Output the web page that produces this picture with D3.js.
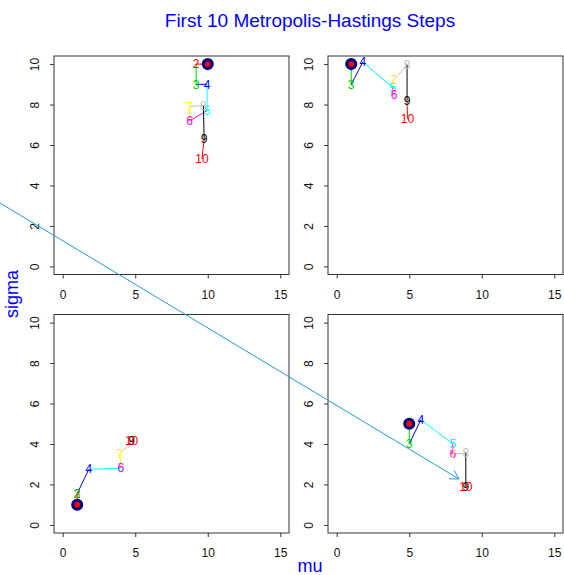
<!DOCTYPE html>
<html>
<head>
<meta charset="utf-8">
<script src="https://cdn.jsdelivr.net/npm/d3@7"></script>
<style>
body { margin: 0; background: #fff; }
text { font-family: "Liberation Sans", Arial, sans-serif; }
</style>
</head>
<body>
<div id="chart"></div>
<script>
var svgWidth = 564;
var svgHeight = 575;

// step labels and R palette colours (col = step number)
var stepLabels = ["1", "2", "3", "4", "5", "6", "7", "8", "9", "10"];
var stepColors = ["#000000", "#FF0000", "#00CD00", "#0000FF", "#00FFFF",
                  "#FF00FF", "#FFFF00", "#BEBEBE", "#000000", "#FF0000"];

var xTicks = [0, 5, 10, 15];
var yTicks = [0, 2, 4, 6, 8, 10];

// chain 1 (start mu=10, sigma=10)
var muA = [10, 9.2, 9.2, 9.95, 9.95, 8.75, 8.75, 9.7, 9.75, 9.6];
var sigmaA = [10, 10, 9, 9, 7.7, 7.2, 7.9, 7.95, 6.3, 5.3];
// chain 2 (start mu=1, sigma=10)
var muB = [1, 1, 1, 1.8, 3.85, 3.95, 3.92, 4.85, 4.85, 4.88];
var sigmaB = [10, 10, 9, 10.1, 8.85, 8.5, 9.2, 9.95, 8.2, 7.3];
// chain 3 (start mu=1, sigma=1)
var muC = [1, 1, 1, 1.8, 4, 4, 3.95, 4.75, 4.75, 4.75];
var sigmaC = [1, 1.55, 1.55, 2.75, 2.8, 2.8, 3.5, 4.15, 4.15, 4.15];
// chain 4 (start mu=5, sigma=5)
var muD = [5, 5, 5, 5.8, 8, 8, 8, 8.9, 8.9, 8.9];
var sigmaD = [5, 5, 4, 5.2, 4, 3.5, 3.5, 3.55, 1.9, 1.9];

// annotation arrow drawn over the figure (page pixels)
var pointer = [[0, 203], [459, 479]];

var panels = [
  { mu: muA, sigma: sigmaA, col: 0, row: 0 },
  { mu: muB, sigma: sigmaB, col: 1, row: 0 },
  { mu: muC, sigma: sigmaC, col: 0, row: 1 },
  { mu: muD, sigma: sigmaD, col: 1, row: 1 }
];

var colLeft = [54, 328];
var rowTop = [56, 314.5];
var pWidth = 235;
var pHeight = 218.5;

var svg = d3.select("#chart")
  .append("svg")
  .attr("width", svgWidth)
  .attr("height", svgHeight);

panels.forEach(function(p) {
  var g = svg.append("g")
    .attr("transform", `translate(${colLeft[p.col]}, ${rowTop[p.row]})`);

  var x = d3.scaleLinear().domain([-0.6, 15.6]).range([0, pWidth]);
  var y = d3.scaleLinear().domain([-0.4, 10.4]).range([pHeight, 0]);

  var bottomAxis = d3.axisBottom(x).tickValues(xTicks).tickSize(4).tickPadding(11.5);
  var leftAxis = d3.axisLeft(y).tickValues(yTicks).tickSize(4);

  var xg = g.append("g")
    .attr("transform", `translate(0, ${pHeight})`)
    .call(bottomAxis);
  var yg = g.append("g").call(leftAxis);

  [xg, yg].forEach(function(a) {
    a.select(".domain").remove();
    a.selectAll("line").attr("stroke", "#333");
    a.selectAll("text").attr("font-size", "12px").attr("fill", "#111")
      .style("font-family", '"Liberation Sans", Arial, sans-serif');
  });

  yg.selectAll("text")
    .attr("x", null)
    .attr("text-anchor", "middle")
    .attr("dy", "0.35em")
    .attr("transform", "translate(-19, 0) rotate(-90)");

  g.append("rect")
    .attr("width", pWidth)
    .attr("height", pHeight)
    .attr("fill", "none")
    .attr("stroke", "#333")
    .attr("stroke-width", 1);

  // path segments, coloured by the step they lead to
  var segs = d3.range(1, p.mu.length).map(function(i) {
    return { x1: p.mu[i - 1], y1: p.sigma[i - 1], x2: p.mu[i], y2: p.sigma[i], i: i };
  });

  g.selectAll(".seg")
    .data(segs)
    .enter()
    .append("line")
    .attr("x1", d => x(d.x1))
    .attr("y1", d => y(d.y1))
    .attr("x2", d => x(d.x2))
    .attr("y2", d => y(d.y2))
    .attr("stroke", d => stepColors[d.i])
    .attr("stroke-width", 1);

  var pts = p.mu.map(function(m, i) {
    return { mu: m, sigma: p.sigma[i], i: i };
  });

  g.selectAll(".lab")
    .data(pts.slice(1))
    .enter()
    .append("text")
    .attr("x", d => x(d.mu))
    .attr("y", d => y(d.sigma))
    .attr("dy", "0.35em")
    .attr("text-anchor", "middle")
    .attr("font-size", "12px")
    .attr("fill", d => stepColors[d.i])
    .text(d => stepLabels[d.i]);

  // starting point
  g.append("circle")
    .attr("cx", x(p.mu[0]))
    .attr("cy", y(p.sigma[0]))
    .attr("r", 5.3)
    .attr("fill", "#000080")
    .attr("stroke", "#000080")
    .attr("stroke-width", 1.5);
  g.append("circle")
    .attr("cx", x(p.mu[0]))
    .attr("cy", y(p.sigma[0]))
    .attr("r", 2.9)
    .attr("fill", "#FF0000");
});

svg.append("text")
  .attr("x", 310)
  .attr("y", 26.5)
  .attr("text-anchor", "middle")
  .attr("font-size", "19px")
  .attr("fill", "#0000FF")
  .text("First 10 Metropolis-Hastings Steps");

svg.append("text")
  .attr("x", 310)
  .attr("y", 572)
  .attr("text-anchor", "middle")
  .attr("font-size", "18px")
  .attr("fill", "#0000FF")
  .text("mu");

svg.append("text")
  .attr("transform", "translate(18, 294) rotate(-90)")
  .attr("text-anchor", "middle")
  .attr("font-size", "18px")
  .attr("fill", "#0000FF")
  .text("sigma");

// arrow
var arrowColor = "#1E9BD7";
svg.append("line")
  .attr("x1", pointer[0][0]).attr("y1", pointer[0][1])
  .attr("x2", pointer[1][0]).attr("y2", pointer[1][1])
  .attr("stroke", arrowColor)
  .attr("stroke-width", 1);

var ang = Math.atan2(pointer[1][1] - pointer[0][1], pointer[1][0] - pointer[0][0]);
[-Math.PI / 6, Math.PI / 6].forEach(function(off) {
  var a = ang + Math.PI + off;
  svg.append("line")
    .attr("x1", pointer[1][0]).attr("y1", pointer[1][1])
    .attr("x2", pointer[1][0] + 10 * Math.cos(a))
    .attr("y2", pointer[1][1] + 10 * Math.sin(a))
    .attr("stroke", arrowColor)
    .attr("stroke-width", 1);
});
</script>
</body>
</html>
